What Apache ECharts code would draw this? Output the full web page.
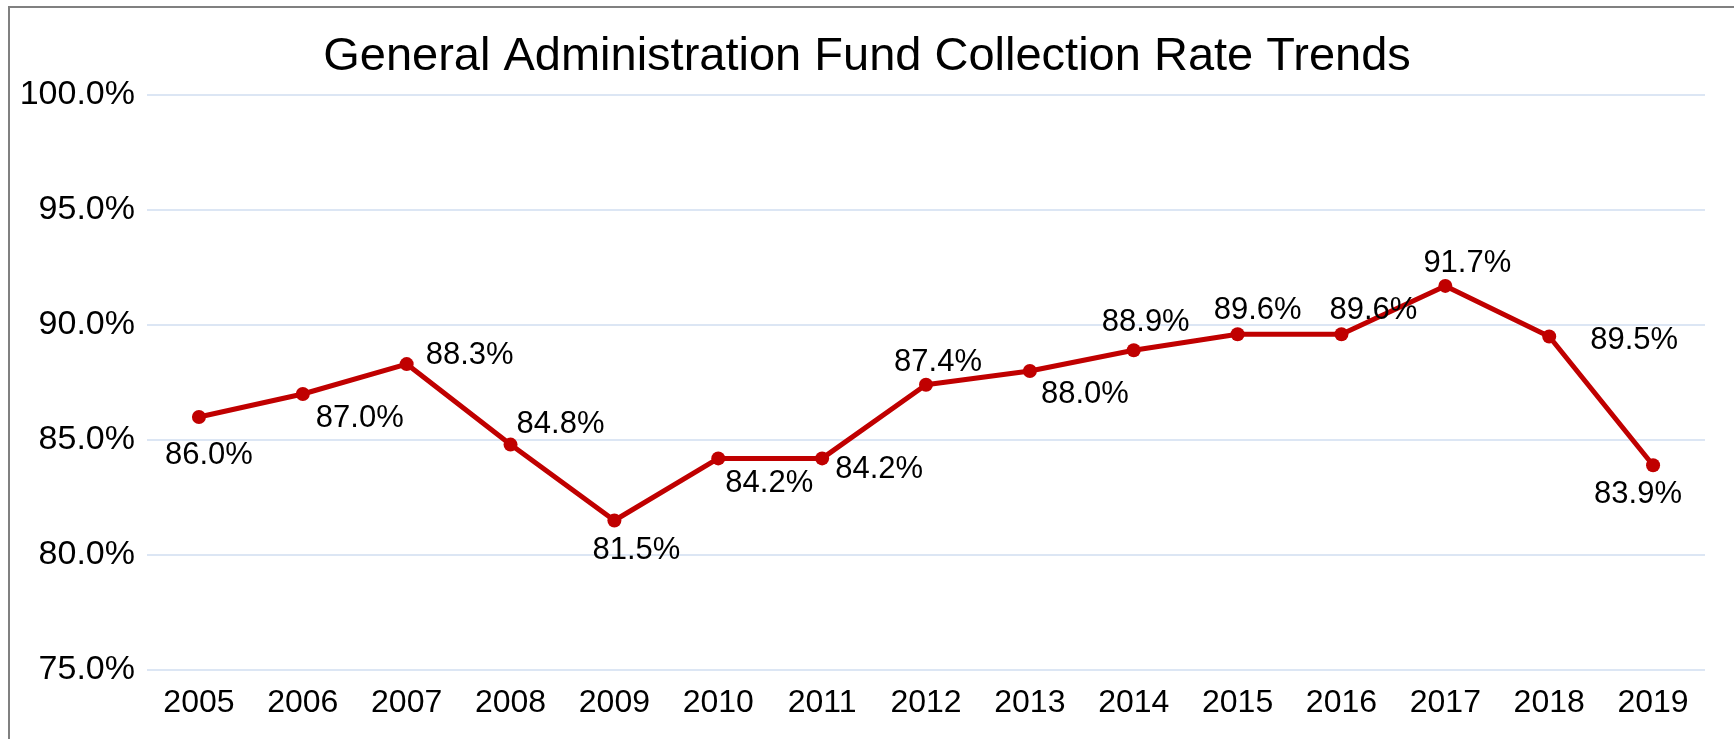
<!DOCTYPE html>
<html>
<head>
<meta charset="utf-8">
<script src="https://cdn.jsdelivr.net/npm/echarts@6/dist/echarts.min.js"></script>
<style>
html,body{margin:0;padding:0;background:#fff;}
#chart{width:1734px;height:739px;}
</style>
</head>
<body>
<div id="chart"></div>
<script>
const title = 'General Administration Fund Collection Rate Trends';
const years = ['2005','2006','2007','2008','2009','2010','2011','2012','2013','2014','2015','2016','2017','2018','2019'];
const rates = [86.0, 87.0, 88.3, 84.8, 81.5, 84.2, 84.2, 87.4, 88.0, 88.9, 89.6, 89.6, 91.7, 89.5, 83.9];
const yMin = 75, yMax = 100, yStep = 5;

// label placement (style only), pixel offsets from each point
const labelOffsets = [[10,38],[57,24],[63,-9],[50,-20],[22,30],[51,25],[57,11],[12,-22],[55,23],[12,-28],[20,-24],[32,-24],[22,-22],[85,4],[-15,29]];

const FONT = "'Liberation Sans', Arial, sans-serif";
const chart = echarts.init(document.getElementById('chart'));
chart.setOption({
  animation: false,
  backgroundColor: '#fff',
  title: {
    text: title, left: 'center', top: 29,
    textStyle: {fontFamily: FONT, fontSize: 47, fontWeight: 'normal', color: '#000'}
  },
  graphic: [{
    type: 'rect', shape: {x: 9, y: 7, width: 1800, height: 800},
    style: {fill: 'none', stroke: '#808080', lineWidth: 2}, silent: true
  }],
  grid: {left: 147, right: 29, top: 95, bottom: 69, containLabel: false},
  xAxis: {
    type: 'category', data: years, boundaryGap: true,
    axisLine: {show: false}, axisTick: {show: false},
    axisLabel: {fontFamily: FONT, fontSize: 32, color: '#000', margin: 17}
  },
  yAxis: {
    type: 'value', min: yMin, max: yMax, interval: yStep,
    axisLine: {show: false}, axisTick: {show: false},
    axisLabel: {fontFamily: FONT, fontSize: 34, color: '#000', margin: 12,
      formatter: v => v.toFixed(1) + '%'},
    splitLine: {lineStyle: {color: '#D0DEF0', width: 1.5}}
  },
  series: [{
    type: 'line', data: rates.map((v, i) => ({
      value: v,
      label: {offset: labelOffsets[i]}
    })),
    symbol: 'circle', symbolSize: 14,
    itemStyle: {color: '#C00000'},
    lineStyle: {color: '#C00000', width: 5},
    label: {
      show: true, position: 'inside', align: 'center', verticalAlign: 'middle',
      fontFamily: FONT, fontSize: 31, color: '#000',
      formatter: p => p.value.toFixed(1) + '%'
    }
  }]
});
</script>
</body>
</html>
